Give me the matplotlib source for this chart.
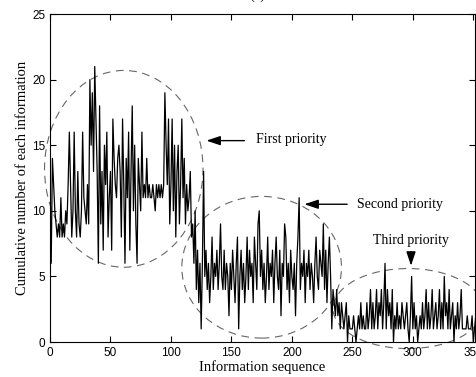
import numpy as np
import matplotlib.pyplot as plt
from matplotlib.patches import Ellipse

# cumulative number of each information
seg_first = [10, 6, 14, 12, 10, 9, 8, 9, 8, 11, 8, 9, 8, 10, 9, 12, 16, 12, 8, 10,
             16, 10, 8, 13, 9, 8, 10, 16, 11, 10, 9, 12, 9, 20, 15, 19, 13, 21, 17, 13,
             6, 18, 9, 13, 7, 15, 12, 16, 8, 11, 13, 7, 17, 14, 12, 11, 14, 15, 13, 8,
             17, 12, 6, 14, 11, 16, 7, 13, 18, 10, 15, 9, 6, 14, 12, 10, 16, 11, 12, 11,
             14, 11, 12, 11, 11, 12, 11, 10, 12, 11, 12, 11, 12, 11, 12, 19, 15, 12, 17, 9,
             12, 17, 10, 15, 8, 13, 15, 9, 12, 17, 11, 14, 9, 12, 10, 11, 13, 8, 9, 6,
             10, 4, 7, 3, 6]
seg_second = [1, 6, 13, 5, 7, 4, 6, 3, 5, 8, 4, 6, 5, 7, 4, 6, 9, 5, 4, 7,
              4, 6, 5, 2, 6, 4, 7, 5, 3, 6, 8, 1, 5, 7, 4, 6, 3, 5, 8, 4,
              7, 5, 6, 3, 8, 6, 4, 9, 10, 5, 7, 4, 6, 3, 5, 8, 4, 6, 5, 7,
              3, 6, 8, 5, 4, 7, 2, 6, 5, 9, 8, 4, 6, 3, 7, 5, 4, 6, 2, 6,
              8, 11, 4, 6, 5, 7, 3, 6, 5, 7, 4, 6, 5, 3, 6, 8, 5, 4, 7, 6,
              5, 9, 4, 7, 3, 6, 8, 5, 1, 4]
seg_third = [3, 2, 4, 2, 3, 1, 3, 2, 1, 2, 3, 0, 2, 1, 1, 1, 2, 1, 0, 1,
             2, 1, 3, 1, 2, 1, 1, 3, 1, 2, 4, 1, 3, 1, 2, 4, 1, 3, 2, 4,
             1, 3, 6, 1, 4, 2, 3, 1, 4, 0, 2, 1, 3, 1, 2, 1, 3, 2, 1, 2,
             3, 1, 0, 2, 5, 1, 3, 1, 2, 0, 1, 2, 1, 3, 1, 2, 4, 1, 3, 1,
             2, 4, 1, 2, 3, 1, 2, 4, 1, 3, 1, 5, 2, 3, 1, 4, 1, 2, 3, 0,
             2, 1, 3, 1, 2, 4, 1, 1, 1, 1, 2, 1, 1, 1, 2, 0, 1, 2]
counts = seg_first + seg_second + seg_third
seq = np.arange(len(counts))

# ellipses: (centre x, centre y, width, height)
groups = [(61, 13.2, 131, 15.0), (175, 5.7, 132, 10.8), (296, 2.55, 124, 6.1)]

serif = 'Liberation Serif'
sans = 'Liberation Sans'

fig = plt.figure(figsize=(4.77, 3.77), dpi=100)
ax = fig.add_axes([0.1048, 0.0928, 0.89, 0.870])

ax.plot(seq, counts, color='black', lw=0.9)

for cx, cy, w, h in groups:
    ax.add_patch(Ellipse((cx, cy), w, h, fill=False, ls=(0, (7, 5)),
                         ec='#666666', lw=0.8, clip_on=False))

arr = dict(arrowstyle='-|>,head_length=0.6,head_width=0.2', color='black', lw=1.0, mutation_scale=14)
ax.annotate('', xy=(127, 15.35), xytext=(163, 15.35), arrowprops=arr)
ax.text(170, 15.4, 'First priority', family=serif, fontsize=10, va='center')
ax.annotate('', xy=(208, 10.5), xytext=(248, 10.5), arrowprops=arr)
ax.text(254, 10.45, 'Second priority', family=serif, fontsize=10, va='center')
ax.annotate('', xy=(298.5, 5.6), xytext=(298.5, 7.1), arrowprops=arr)
ax.text(298.5, 7.7, 'Third priority', family=serif, fontsize=10, ha='center', va='center')

ax.set_xlim(0, 351)
ax.set_ylim(0, 25)
ax.set_xticks(np.arange(0, 351, 50))
ax.set_yticks(np.arange(0, 26, 5))
ax.tick_params(direction='in', top=True, right=True, length=4, width=0.8, labelsize=8.5)
for lab in ax.get_xticklabels() + ax.get_yticklabels():
    lab.set_family(sans)
for s in ax.spines.values():
    s.set_linewidth(0.8)

ax.set_xlabel('Information sequence', family=serif, fontsize=10.5, labelpad=1)
ax.set_ylabel('Cumulative number of each information', family=serif, fontsize=10.5, labelpad=2)
# panel label, almost entirely above the top edge as in the reference
fig.text(257 / 477, 1 + 1.5 / 377, '(a)', family=serif, fontsize=10.5, ha='center', va='baseline')

fig.savefig('out.png', dpi=100)
